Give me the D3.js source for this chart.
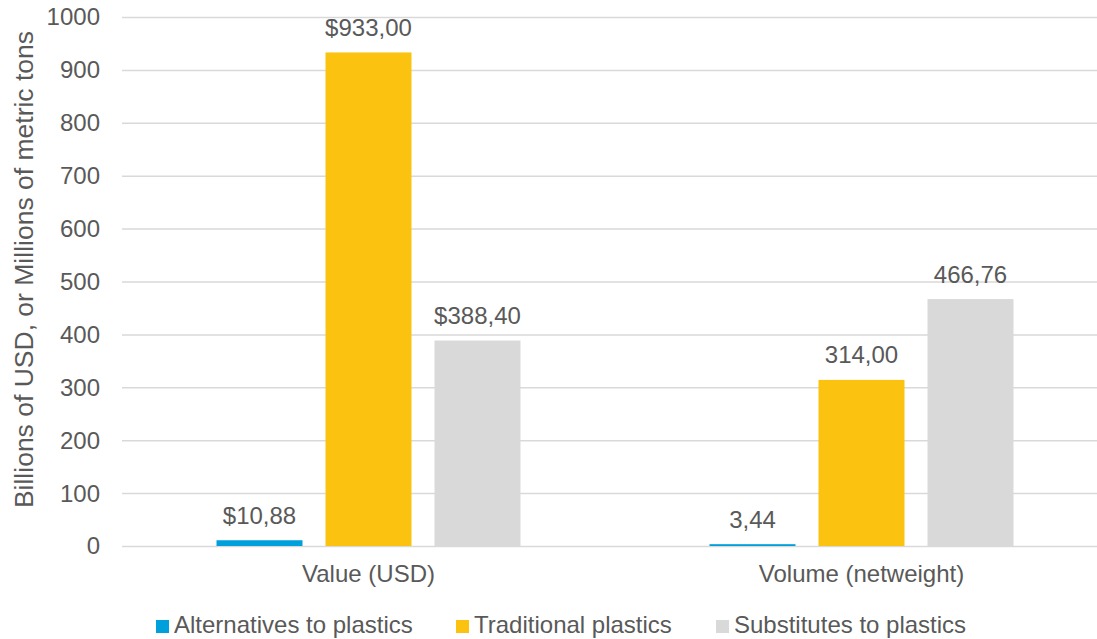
<!DOCTYPE html>
<html>
<head>
<meta charset="utf-8">
<script src="https://cdn.jsdelivr.net/npm/d3@7"></script>
<style>
  html, body { margin: 0; padding: 0; background: #fff; }
  svg text { font-family: "Liberation Sans", Arial, sans-serif; fill: #595959; }
</style>
</head>
<body>
<div id="chart"></div>
<script>
// data
const categories = ["Value (USD)", "Volume (netweight)"];
const labelPrefix = ["$", ""];
const seriesNames = ["Alternatives to plastics", "Traditional plastics", "Substitutes to plastics"];
const alternatives = [10.88, 3.44];
const traditional = [933.00, 314.00];
const substitutes = [388.40, 466.76];
const yTicks = [0, 100, 200, 300, 400, 500, 600, 700, 800, 900, 1000];
const colors = ["#00a0dc", "#fbc30f", "#d9d9d9"];

const W = 1097, H = 639;
const plot = { left: 122, right: 1108, top: 17, bottom: 546 };
const FS = 24;

const svg = d3.select("#chart").append("svg")
  .attr("width", W)
  .attr("height", H);

const x0 = d3.scaleBand()
  .domain(categories)
  .range([plot.left, plot.right])
  .padding(0);

// bars take 304px of each 493px band, centered
const groupInner = 304;
const x1 = d3.scaleBand()
  .domain(seriesNames)
  .range([(x0.bandwidth() - groupInner) / 2, (x0.bandwidth() + groupInner) / 2])
  .paddingInner(0.211)
  .paddingOuter(0);

const y = d3.scaleLinear()
  .domain([0, 1000])
  .range([plot.bottom, plot.top]);

// gridlines
svg.append("g")
  .attr("class", "grid")
  .attr("transform", `translate(${plot.left},0)`)
  .call(d3.axisLeft(y).tickValues(yTicks).tickSize(-(plot.right - plot.left)).tickFormat(""))
  .call(g => g.select(".domain").remove())
  .call(g => g.selectAll("line").attr("stroke", "#d9d9d9").attr("stroke-width", 1.5));

// y tick labels
svg.append("g")
  .attr("transform", "translate(100,0)")
  .call(d3.axisLeft(y).tickValues(yTicks).tickSize(0).tickPadding(0).tickFormat(d3.format("d")))
  .call(g => g.select(".domain").remove())
  .call(g => g.selectAll("text")
    .attr("font-size", FS)
    .attr("font-family", null)
    .attr("fill", "#595959")
    .attr("dy", "0.33em"));

// y axis title
svg.append("text")
  .attr("transform", `translate(33,269.5) rotate(-90)`)
  .attr("text-anchor", "middle")
  .attr("font-size", 26.5)
  .text("Billions of USD, or Millions of metric tons");

// category axis
svg.append("g")
  .attr("transform", `translate(0,${plot.bottom})`)
  .call(d3.axisBottom(x0).tickSize(0).tickPadding(0))
  .call(g => g.select(".domain").remove())
  .call(g => g.selectAll("text")
    .attr("font-size", FS)
    .attr("font-family", null)
    .attr("fill", "#595959")
    .attr("y", 36)
    .attr("dy", 0));

// build rows
const table = categories.map((c, i) => ({
  category: c,
  prefix: labelPrefix[i],
  values: [alternatives[i], traditional[i], substitutes[i]]
}));

const groups = svg.selectAll(".cat")
  .data(table)
  .join("g")
  .attr("class", "cat")
  .attr("transform", d => `translate(${x0(d.category)},0)`);

groups.selectAll("rect")
  .data(d => d.values.map((v, j) => ({ series: seriesNames[j], value: v, j })))
  .join("rect")
  .attr("x", d => x1(d.series))
  .attr("y", d => y(d.value))
  .attr("width", x1.bandwidth())
  .attr("height", d => y(0) - y(d.value))
  .attr("fill", d => colors[d.j]);

groups.selectAll(".lbl")
  .data(d => d.values.map((v, j) => ({ series: seriesNames[j], value: v, prefix: d.prefix })))
  .join("text")
  .attr("class", "lbl")
  .attr("x", d => x1(d.series) + x1.bandwidth() / 2)
  .attr("y", d => y(d.value) - 16.5)
  .attr("text-anchor", "middle")
  .attr("font-size", FS)
  .text(d => d.prefix + d.value.toFixed(2).replace(".", ","));

// legend
const legendX = [156, 456, 716];
const legend = svg.append("g");
seriesNames.forEach((s, i) => {
  legend.append("rect")
    .attr("x", legendX[i])
    .attr("y", 620)
    .attr("width", 13)
    .attr("height", 13)
    .attr("fill", colors[i]);
  legend.append("text")
    .attr("x", legendX[i] + 18)
    .attr("y", 633)
    .attr("font-size", FS)
    .text(s);
});
</script>
</body>
</html>
